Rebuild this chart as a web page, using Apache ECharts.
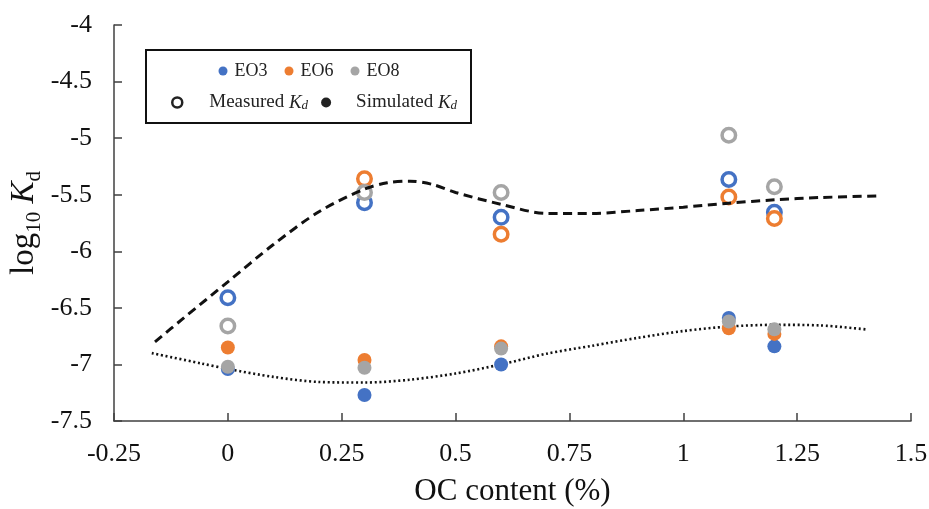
<!DOCTYPE html>
<html>
<head>
<meta charset="utf-8">
<script src="https://cdn.jsdelivr.net/npm/echarts@6/dist/echarts.min.js"></script>
<style>html,body{margin:0;padding:0;background:#fff}#c{width:929px;height:509px}</style>
</head>
<body>
<div id="c"></div>
<script>
// ---- data ----
var ocContent = [0, 0.3, 0.6, 1.1, 1.2];
var measuredEO3 = [-6.41, -5.57, -5.70, -5.365, -5.655];
var measuredEO6 = [null, -5.36, -5.85, -5.52, -5.71];
var measuredEO8 = [-6.66, -5.48, -5.48, -4.975, -5.43];
var simulatedEO3 = [-7.04, -7.27, -7.00, -6.59, -6.84];
var simulatedEO6 = [-6.85, -6.96, -6.84, -6.68, -6.73];
var simulatedEO8 = [-7.02, -7.03, -6.86, -6.62, -6.69];
var dashedX = [-0.16, -0.1, 0, 0.1, 0.2, 0.3, 0.35, 0.4, 0.45, 0.5, 0.6, 0.7, 0.8, 0.9, 1.0, 1.1, 1.2, 1.3, 1.43];
var dashedY = [-6.80, -6.60, -6.27, -5.94, -5.65, -5.45, -5.395, -5.38, -5.41, -5.48, -5.585, -5.665, -5.665, -5.64, -5.61, -5.575, -5.545, -5.525, -5.51];
var dottedX = [-0.167, -0.06, 0, 0.1, 0.2, 0.3, 0.4, 0.5, 0.6, 0.7, 0.8, 0.9, 1.0, 1.1, 1.2, 1.3, 1.4];
var dottedY = [-6.90, -6.99, -7.04, -7.11, -7.155, -7.16, -7.135, -7.08, -7.00, -6.905, -6.835, -6.765, -6.705, -6.665, -6.65, -6.655, -6.69];
var xTicks = {min: -0.25, max: 1.5, interval: 0.25};
var yTicks = {min: -7.5, max: -4, interval: 0.5};
var groupNames = ['EO3', 'EO6', 'EO8'];
var colors = {EO3: '#4472C4', EO6: '#ED7D31', EO8: '#A5A5A5'};

function pairs(xs, ys) {
  var out = [];
  for (var i = 0; i < xs.length; i++) if (ys[i] !== null) out.push([xs[i], ys[i]]);
  return out;
}

var font = 'Liberation Serif';
var series = [];
groupNames.forEach(function (g) {
  series.push({name: g, type: 'scatter', data: [], itemStyle: {color: colors[g], opacity: 1}});
});
series.push({name: 'Measured', type: 'scatter', data: [], itemStyle: {color: '#fff', borderColor: '#222', borderWidth: 2.5, opacity: 1}});
series.push({name: 'Simulated', type: 'scatter', data: [], itemStyle: {color: '#222', opacity: 1}});

var measured = {EO3: measuredEO3, EO6: measuredEO6, EO8: measuredEO8};
var simulated = {EO3: simulatedEO3, EO6: simulatedEO6, EO8: simulatedEO8};
groupNames.forEach(function (g) {
  series.push({
    name: g + ' measured', type: 'scatter', symbol: 'circle', symbolSize: 13.5, z: 3,
    data: pairs(ocContent, measured[g]),
    itemStyle: {color: '#fff', borderColor: colors[g], borderWidth: 3.5, opacity: 1}
  });
});
series.push({
  name: 'fit measured', type: 'line', smooth: 0.3, symbol: 'none', z: 4,
  data: pairs(dashedX, dashedY),
  lineStyle: {color: '#111', width: 3, type: [9, 5.5]}
});
series.push({
  name: 'fit simulated', type: 'line', smooth: 0.3, symbol: 'none', z: 4,
  data: pairs(dottedX, dottedY),
  lineStyle: {color: '#111', width: 2.6, type: [2, 2.7]}
});
groupNames.forEach(function (g) {
  series.push({
    name: g + ' simulated', type: 'scatter', symbol: 'circle', symbolSize: 14, z: 5,
    data: pairs(ocContent, simulated[g]),
    itemStyle: {color: colors[g], opacity: 1}
  });
});

var chart = echarts.init(document.getElementById('c'));
chart.setOption({
  backgroundColor: '#fff',
  animation: false,
  grid: {left: 114, right: 18, top: 25, bottom: 88, containLabel: false, outerBoundsMode: 'none'},
  xAxis: {
    type: 'value', min: xTicks.min, max: xTicks.max, interval: xTicks.interval,
    name: 'OC content (%)', nameLocation: 'middle', nameGap: 55, nameMoveOverlap: false,
    nameTextStyle: {fontFamily: font, fontSize: 31, color: '#111'},
    axisLine: {show: true, onZero: false, lineStyle: {color: '#404040', width: 1.5}},
    axisTick: {show: true, inside: true, length: 8, lineStyle: {color: '#404040', width: 1.5}},
    axisLabel: {fontFamily: font, fontSize: 26, color: '#111', margin: 20},
    splitLine: {show: false}
  },
  yAxis: {
    type: 'value', min: yTicks.min, max: yTicks.max, interval: yTicks.interval,
    name: 'log{sub|10} {it|K}{sub|d}', nameLocation: 'middle', nameGap: 69, nameMoveOverlap: false,
    nameTextStyle: {
      fontFamily: font, fontSize: 33, color: '#111',
      rich: {
        sub: {fontFamily: font, fontSize: 21, color: '#111', verticalAlign: 'bottom', lineHeight: 42},
        it: {fontFamily: font, fontSize: 33, fontStyle: 'italic', color: '#111', lineHeight: 42}
      }
    },
    axisLine: {show: true, onZero: false, lineStyle: {color: '#404040', width: 1.5}},
    axisTick: {show: true, inside: true, length: 8, lineStyle: {color: '#404040', width: 1.5}},
    axisLabel: {fontFamily: font, fontSize: 26, color: '#111', margin: 22},
    splitLine: {show: false}
  },
  legend: [{
    data: groupNames, left: 213.5, top: 57, itemWidth: 9, itemHeight: 9, itemGap: 17, icon: 'circle',
    selectedMode: false,
    formatter: function (n) { return '{t|' + n + '}'; },
    textStyle: {fontFamily: font, fontSize: 18, color: '#222',
      rich: {t: {fontFamily: font, fontSize: 18, color: '#222', lineHeight: 20, padding: [0, 0, 0, 2]}}}
  }, {
    data: [
      {name: 'Measured', icon: 'circle', itemStyle: {color: '#fff', borderColor: '#222', borderWidth: 2.5}},
      {name: 'Simulated', icon: 'circle', itemStyle: {color: '#222'}}
    ],
    left: 166, top: 88, itemWidth: 10, itemHeight: 10, itemGap: 13, selectedMode: false,
    formatter: function (n) { return '{' + (n === 'Measured' ? 'm' : 's') + '|' + n + ' }{k|K}{d|d}'; },
    textStyle: {
      fontFamily: font, fontSize: 19, color: '#222',
      rich: {
        m: {fontFamily: font, fontSize: 19, color: '#222', lineHeight: 20, padding: [0, 0, 0, 22]},
        s: {fontFamily: font, fontSize: 19, color: '#222', lineHeight: 20, padding: [0, 0, 0, 20]},
        k: {fontFamily: font, fontSize: 19, fontStyle: 'italic', color: '#222', lineHeight: 20},
        d: {fontFamily: font, fontSize: 13, fontStyle: 'italic', color: '#222', lineHeight: 20, verticalAlign: 'bottom'}
      }
    }
  }],
  graphic: [{
    type: 'rect', shape: {x: 146, y: 50, width: 325, height: 73},
    style: {fill: 'none', stroke: '#111', lineWidth: 2}, z: 10
  }],
  series: series
});
</script>
</body>
</html>
